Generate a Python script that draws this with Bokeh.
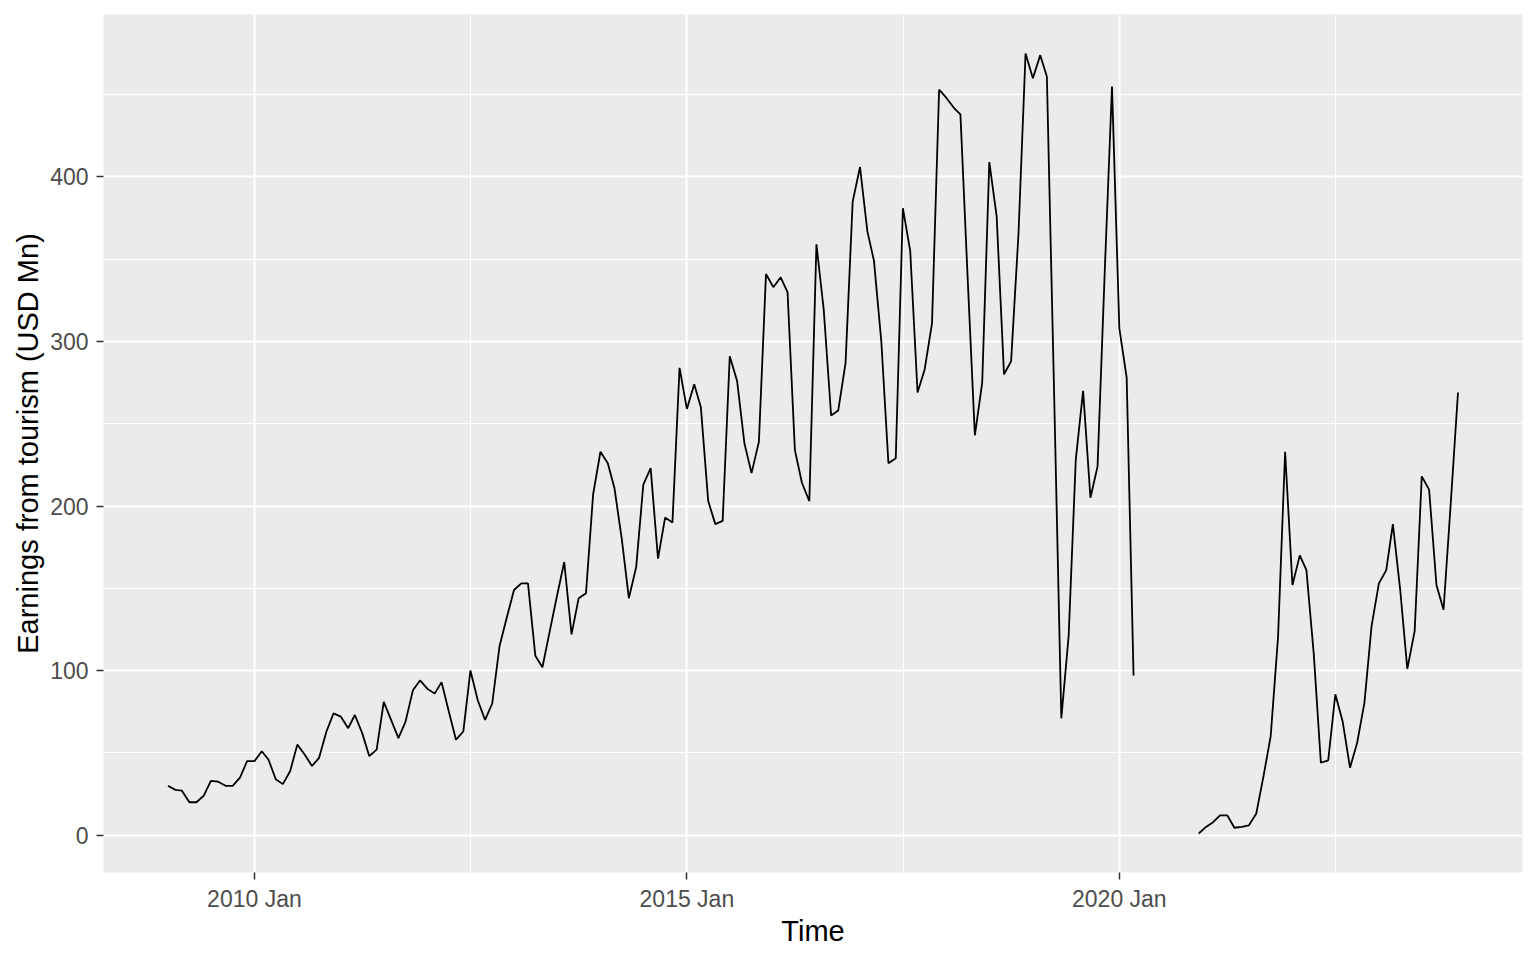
import numpy as np
import pandas as pd
from bokeh.plotting import figure
from bokeh.models import Range1d, FixedTicker, DatetimeTickFormatter, ColumnDataSource
from bokeh.embed import file_html
from bokeh.resources import INLINE

# Monthly earnings from tourism (USD Mn), Jan 2009 - Dec 2023
start_month = "2009-01"
y2009 = [30, 27.5, 27, 20, 20, 24, 33, 32.5, 30, 30, 35, 45]
y2010 = [45, 51, 46, 34, 31, 39, 55, 49, 42, 47, 63, 74]
y2011 = [72, 65, 73, 62, 48, 52, 81, 70, 59, 69, 88, 94]
y2012 = [89, 86, 93, 75, 58, 63, 100, 82, 70, 80, 115, 132]
y2013 = [149, 153, 153, 109, 102, 124, 145, 166, 122, 144, 147, 207]
y2014 = [233, 226, 211, 180, 144, 163, 213, 223, 168, 193, 190, 284]
y2015 = [259, 274, 260, 203, 189, 191, 291, 276, 238, 220, 239, 341]
y2016 = [333, 339, 330, 234, 214, 203, 359, 319, 255, 258, 287, 385]
y2017 = [406, 367, 349, 300, 226, 229, 381, 355, 269, 283, 311, 453]
y2018 = [448, 442, 438, 337, 243, 275, 409, 376, 280, 288, 365, 475]
y2019 = [460, 474, 461, 266, 71, 121, 228, 270, 205, 224, 345, 455]
y2020 = [308, 278, 97, None, None, None, None, None, None, None, None, 1]
y2021 = [5, 8, 12, 12, 4.5, 5, 6, 13, 36, 60, 120, 233]
y2022 = [152, 170, 161, 110, 44, 45.5, 85.6, 69, 41, 56, 80.5, 127]
y2023 = [153, 161, 189, 149, 101, 124, 218, 210, 152, 137, 203, 269]

x_tick_dates = ["2010-01-01", "2015-01-01", "2020-01-01"]
x_minor_dates = ["2012-07-02", "2017-07-02", "2022-07-02"]
y_ticks = [0, 100, 200, 300, 400]
y_minor = [50, 150, 250, 350, 450]

values = (y2009 + y2010 + y2011 + y2012 + y2013 + y2014 + y2015 + y2016 +
          y2017 + y2018 + y2019 + y2020 + y2021 + y2022 + y2023)
vals = np.array([np.nan if v is None else v for v in values], dtype=float)
dates = pd.date_range(start_month + "-01", periods=len(vals), freq="MS")

src = ColumnDataSource(dict(x=dates, y=vals))

def ms(d):
    return pd.Timestamp(d).value / 1e6

x0, x1 = ms(dates[0]), ms(dates[-1])
dx = (x1 - x0) * 0.05
ymin, ymax = np.nanmin(vals), np.nanmax(vals)
dy = (ymax - ymin) * 0.05

p = figure(width=1528, height=952, x_axis_type="datetime",
           output_backend="svg", toolbar_location=None,
           x_range=Range1d(x0 - dx, x1 + dx),
           y_range=Range1d(ymin - dy, ymax + dy),
           min_border_left=103, min_border_right=6, min_border_top=14, min_border_bottom=80)

p.background_fill_color = "#EBEBEB"
p.border_fill_color = "white"
p.outline_line_color = None

p.line("x", "y", source=src, line_color="black", line_width=1.8)

p.xaxis.ticker = FixedTicker(ticks=[ms(d) for d in x_tick_dates],
                             minor_ticks=[ms(d) for d in x_minor_dates])
p.xaxis.formatter = DatetimeTickFormatter(years="%Y %b", months="%Y %b", days="%Y %b",
                                          hours="%Y %b", minutes="%Y %b", seconds="%Y %b",
                                          milliseconds="%Y %b", microseconds="%Y %b")
p.yaxis.ticker = FixedTicker(ticks=y_ticks, minor_ticks=y_minor)

for ax in (p.xaxis[0], p.yaxis[0]):
    ax.axis_line_color = None
    ax.major_tick_line_color = "#333333"
    ax.major_tick_line_width = 1.5
    ax.major_tick_out = 7
    ax.major_tick_in = 0
    ax.minor_tick_line_color = None
    ax.major_label_text_font = "Liberation Sans"
    ax.major_label_text_font_size = "23px"
    ax.major_label_text_color = "#4D4D4D"
    ax.axis_label_text_font = "Liberation Sans"
    ax.axis_label_text_font_size = "29px"
    ax.axis_label_text_font_style = "normal"
    ax.axis_label_text_color = "black"

p.xaxis.axis_label = "Time"
p.yaxis.axis_label = "Earnings from tourism (USD Mn)"
p.xaxis.major_label_standoff = 6
p.yaxis.major_label_standoff = 8
p.xaxis.axis_label_standoff = 0
p.yaxis.axis_label_standoff = 3

for g in (p.xgrid[0], p.ygrid[0]):
    g.grid_line_color = "white"
    g.grid_line_width = 2
    g.minor_grid_line_color = "white"
    g.minor_grid_line_width = 1

open("out.html", "w").write(file_html(p, INLINE))
